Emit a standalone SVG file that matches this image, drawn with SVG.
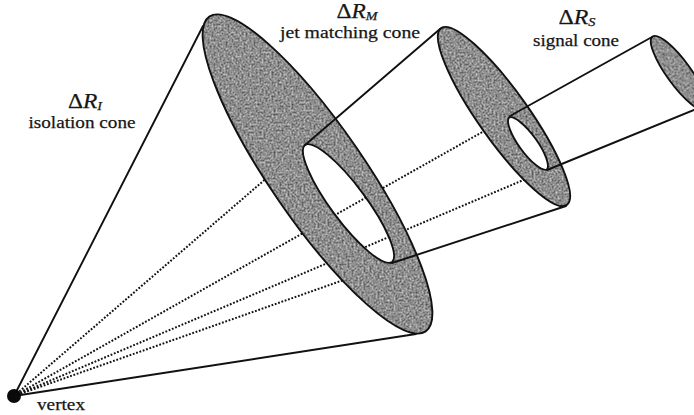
<svg xmlns="http://www.w3.org/2000/svg" width="694" height="415" viewBox="0 0 694 415">
<style>
.solid{stroke:#111;stroke-width:1.9;fill:none;stroke-linecap:round}
.dot{stroke:#111;stroke-width:2;fill:none;stroke-dasharray:1.8 1.7}
.disc{fill:#8b8b8b;fill-rule:evenodd;filter:url(#grain)}
.rim{stroke:#111;stroke-width:1.9;fill:none}
text{font-family:"Liberation Serif","Times New Roman",serif;fill:#161616;text-anchor:middle;stroke:#161616;stroke-width:.25}
.sym{font-size:20px}
.lab{font-size:17px}
.sub{font-size:12px;font-style:italic}
</style>
<defs>
<filter id="grain" x="-5%" y="-5%" width="110%" height="110%" color-interpolation-filters="sRGB">
<feTurbulence type="fractalNoise" baseFrequency="0.5" numOctaves="2" seed="4" result="n"/>
<feColorMatrix in="n" type="matrix" values="0.75 0 0 0 0.18  0.75 0 0 0 0.18  0.75 0 0 0 0.18  0 0 0 0 1" result="g"/>
<feComposite in="g" in2="SourceAlpha" operator="in" result="t"/>
<feGaussianBlur in="t" stdDeviation="0.6"/>
</filter>
</defs>
<rect width="694" height="415" fill="#fff"/>
<g id="connectors-hidden">
<path class="dot" d="M14 396L305 145"/>
<path class="dot" d="M14 396L509 117"/>
<path class="dot" d="M14 396L547 170"/>
<path class="dot" d="M14 396L392 263"/>
</g>
<g id="isolation-disc">
<path class="disc" d="M209.3 16.6A191 47 55.5 0 1 425.7 331.4A191 47 55.5 0 1 209.3 16.6ZM305 144.9A73 18 53.4 0 1 392 262.1A73 18 53.4 0 1 305 144.9Z"/>
<path class="rim" d="M209.3 16.6A191 47 55.5 0 1 425.7 331.4A191 47 55.5 0 1 209.3 16.6ZM305 144.9A73 18 53.4 0 1 392 262.1A73 18 53.4 0 1 305 144.9Z"/>
</g>
<g id="matching-disc">
<path class="disc" d="M441.2 28.1A108.4 25 54.6 0 1 566.8 204.9A108.4 25 54.6 0 1 441.2 28.1ZM509.1 117.5A32.2 9.5 54 0 1 546.9 169.5A32.2 9.5 54 0 1 509.1 117.5Z"/>
<path class="rim" d="M441.2 28.1A108.4 25 54.6 0 1 566.8 204.9A108.4 25 54.6 0 1 441.2 28.1ZM509.1 117.5A32.2 9.5 54 0 1 546.9 169.5A32.2 9.5 54 0 1 509.1 117.5Z"/>
</g>
<g id="signal-disc">
<ellipse class="disc" cx="679" cy="73" rx="45" ry="12" transform="rotate(54 679 73)"/>
<ellipse class="rim" cx="679" cy="73" rx="45" ry="12" transform="rotate(54 679 73)"/>
</g>
<g id="connectors">
<path class="solid" d="M14 396L203 26"/>
<path class="solid" d="M14 396L416 334"/>
<path class="solid" d="M305 145L440 29"/>
<path class="solid" d="M392 263L566 206"/>
<path class="solid" d="M510 116L652 37"/>
<path class="solid" d="M547 170L694 110"/>
</g>
<g id="vertex">
<circle cx="14" cy="396" r="7" fill="#0a0a0a"/>
<text x="61" y="410" class="lab" textLength="48" lengthAdjust="spacingAndGlyphs">vertex</text>
</g>
<g id="label-isolation">
<text x="85" y="108" class="sym" textLength="34" lengthAdjust="spacingAndGlyphs">Δ<tspan font-style="italic">R</tspan><tspan class="sub" dy="2">I</tspan></text>
<text x="82" y="128" class="lab" textLength="107" lengthAdjust="spacingAndGlyphs">isolation cone</text>
</g>
<g id="label-matching">
<text x="357" y="18" class="sym" textLength="41" lengthAdjust="spacingAndGlyphs">Δ<tspan font-style="italic">R</tspan><tspan class="sub" dy="2">M</tspan></text>
<text x="350" y="38" class="lab" textLength="140" lengthAdjust="spacingAndGlyphs">jet matching cone</text>
</g>
<g id="label-signal">
<text x="577" y="24" class="sym" textLength="37" lengthAdjust="spacingAndGlyphs">Δ<tspan font-style="italic">R</tspan><tspan class="sub" dy="2">S</tspan></text>
<text x="576" y="46" class="lab" textLength="86" lengthAdjust="spacingAndGlyphs">signal cone</text>
</g>
</svg>
